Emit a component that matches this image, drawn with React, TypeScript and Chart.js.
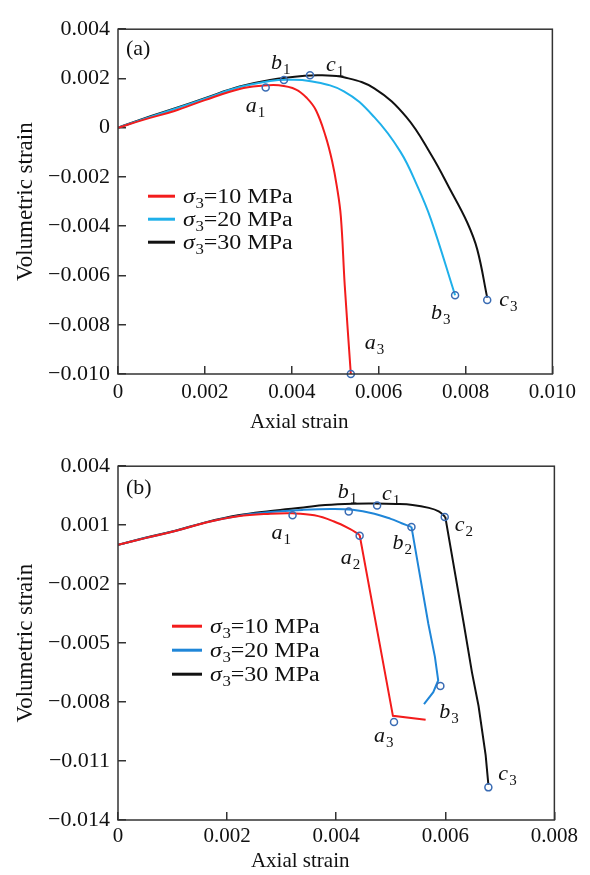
import React, { useEffect, useRef } from 'react';
import { Chart, registerables } from 'chart.js';

Chart.register(...registerables);

const FONT = '"Liberation Serif", "Times New Roman", Times, serif';

// ---------- Panel (a) data ----------
const aRedX = [0, 0.0006, 0.0013, 0.002, 0.0028, 0.0033, 0.0037, 0.0041, 0.00435, 0.00456, 0.00478, 0.00493, 0.00504, 0.00513, 0.00522, 0.00536];
const aRedY = [0, 0.00033, 0.00068, 0.00112, 0.00157, 0.0017, 0.00172, 0.00155, 0.0012, 0.0007, -0.00035, -0.00136, -0.0024, -0.0036, -0.0064, -0.0100];

const aBlueX = [0, 0.0006, 0.0013, 0.002, 0.0028, 0.0035, 0.0039, 0.0044, 0.0052, 0.0059, 0.0065, 0.0069, 0.0072, 0.00776];
const aBlueY = [0, 0.00036, 0.00076, 0.00118, 0.00165, 0.0019, 0.00195, 0.0019, 0.00148, 0.00043, -0.00097, -0.0024, -0.0037, -0.0068];

const aBlackX = [0, 0.0006, 0.0013, 0.002, 0.0028, 0.0035, 0.0043, 0.0047, 0.0052, 0.0059, 0.00664, 0.00722, 0.00764, 0.00804, 0.00827, 0.0085];
const aBlackY = [0, 0.00038, 0.00078, 0.0012, 0.00167, 0.00194, 0.00211, 0.00213, 0.00205, 0.0016, 0.00043, -0.00113, -0.00249, -0.00385, -0.00494, -0.0069];

const aMarkNames = ['a1', 'b1', 'c1', 'a3', 'b3', 'c3'];
const aMarkX = [0.0034, 0.00382, 0.00442, 0.00536, 0.00776, 0.0085];
const aMarkY = [0.00163, 0.00194, 0.00213, -0.0100, -0.0068, -0.0070];

const aXTicks = [0, 0.002, 0.004, 0.006, 0.008, 0.010];
const aYTicks = [0.004, 0.002, 0, -0.002, -0.004, -0.006, -0.008, -0.010];

// ---------- Panel (b) data ----------
const bRedX = [0, 0.0005, 0.00105, 0.0016, 0.0022, 0.0028, 0.0032, 0.0036, 0.00395, 0.00425, 0.00443, 0.00504, 0.00564];
const bRedY = [0, 0.00034, 0.0007, 0.00112, 0.00145, 0.00158, 0.0016, 0.0015, 0.0012, 0.00081, 0.0005, -0.0087, -0.0089];

const bBlueX = [0, 0.0005, 0.00105, 0.0016, 0.0022, 0.0028, 0.0034, 0.0039, 0.0043, 0.0047, 0.005, 0.0052, 0.00538, 0.00569, 0.00581, 0.00587, 0.00578, 0.00561];
const bBlueY = [0, 0.00035, 0.0007, 0.00113, 0.00147, 0.00167, 0.00178, 0.00182, 0.00178, 0.00158, 0.00132, 0.0011, 0.00091, -0.00403, -0.0057, -0.0069, -0.0075, -0.0081];

const bBlackX = [0, 0.0005, 0.00105, 0.0016, 0.0022, 0.0028, 0.0034, 0.0038, 0.0043, 0.0047, 0.0051, 0.0054, 0.0057, 0.00588, 0.006, 0.00634, 0.00649, 0.00661, 0.00674, 0.00679];
const bBlackY = [0, 0.00036, 0.00072, 0.00114, 0.0015, 0.00172, 0.0019, 0.00202, 0.00209, 0.0021, 0.00208, 0.00203, 0.00188, 0.0017, 0.00142, -0.00403, -0.0065, -0.0082, -0.0107, -0.0122];

const bMarkNames = ['a1', 'b1', 'c1', 'a2', 'b2', 'c2', 'a3', 'b3', 'c3'];
const bMarkX = [0.0032, 0.00423, 0.00475, 0.00443, 0.00538, 0.00599, 0.00506, 0.00591, 0.00679];
const bMarkY = [0.0015, 0.0017, 0.002, 0.00046, 0.00091, 0.00142, -0.00901, -0.00718, -0.01234];

const bXTicks = [0, 0.002, 0.004, 0.006, 0.008];
const bYTicks = [0.004, 0.001, -0.002, -0.005, -0.008, -0.011, -0.014];

const legendPressures = ['10', '20', '30'];

// ---------- styles ----------
const RED = '#f31c1c';
const BLACK = '#111111';
const MARK = '#3a6cb4';

type Series = { x: number[]; y: number[]; color: string; bend: number };
type Panel = {
  tag: string;
  series: Series[];
  markNames: string[];
  markX: number[];
  markY: number[];
  labelOff: Record<string, [number, number]>;
  xMax: number;
  yMin: number;
  yMax: number;
  xTicks: number[];
  yTicks: number[];
  height: number;
  padTop: number;
  xAxisH: number;
  xTickPad: number;
  legend: { x0: number; x1: number; tx: number; rows: number[] };
  xTitleDy: number;
  tagDy: number;
};

const panelA: Panel = {
  tag: '(a)',
  series: [
    { x: aRedX, y: aRedY, color: RED, bend: aRedX.length - 1 },
    { x: aBlueX, y: aBlueY, color: '#1fb0ea', bend: aBlueX.length - 1 },
    { x: aBlackX, y: aBlackY, color: BLACK, bend: aBlackX.length - 1 },
  ],
  markNames: aMarkNames,
  markX: aMarkX,
  markY: aMarkY,
  labelOff: { a1: [-20, 24], b1: [-13, -11], c1: [16, -4], a3: [14, -25], b3: [-24, 24], c3: [12, 6] },
  xMax: 0.010,
  yMin: -0.010,
  yMax: 0.004,
  xTicks: aXTicks,
  yTicks: aYTicks,
  height: 437,
  padTop: 14,
  xAxisH: 63,
  xTickPad: 14,
  legend: { x0: 30, x1: 57, tx: 65, rows: [167, 190, 213] },
  xTitleDy: 54,
  tagDy: 26,
};

const panelB: Panel = {
  tag: '(b)',
  series: [
    { x: bRedX, y: bRedY, color: RED, bend: 10 },
    { x: bBlueX, y: bBlueY, color: '#1f86d8', bend: 12 },
    { x: bBlackX, y: bBlackY, color: BLACK, bend: 14 },
  ],
  markNames: bMarkNames,
  markX: bMarkX,
  markY: bMarkY,
  labelOff: {
    a1: [-21, 24], b1: [-11, -13], c1: [5, -6], a2: [-19, 28], b2: [-19, 22],
    c2: [10, 14], a3: [-20, 20], b3: [-1, 32], c3: [10, -7],
  },
  xMax: 0.008,
  yMin: -0.014,
  yMax: 0.004,
  xTicks: bXTicks,
  yTicks: bYTicks,
  height: 438,
  padTop: 22,
  xAxisH: 55,
  xTickPad: 12,
  legend: { x0: 54, x1: 84, tx: 92, rows: [160, 184, 208] },
  xTitleDy: 47,
  tagDy: 28,
};

function fmt(v: number): string {
  if (Math.abs(v) < 1e-12) return '0';
  return (v < 0 ? '\u2212' : '') + Math.abs(v).toFixed(3);
}

function drawSub(ctx: CanvasRenderingContext2D, x: number, y: number, main: string, sub: string, size: number, subSize: number) {
  ctx.textAlign = 'left';
  ctx.textBaseline = 'alphabetic';
  ctx.font = `italic ${size}px ${FONT}`;
  ctx.fillText(main, x, y);
  const w = ctx.measureText(main).width;
  ctx.font = `${subSize}px ${FONT}`;
  ctx.fillText(sub, x + w + 1, y + 5);
}

function overlay(p: Panel) {
  return {
    id: 'overlay',
    afterDraw(chart: any) {
      const ctx: CanvasRenderingContext2D = chart.ctx;
      const a = chart.chartArea;
      const xs = chart.scales.x;
      const ys = chart.scales.y;
      ctx.save();
      // frame
      ctx.strokeStyle = '#333';
      ctx.lineWidth = 1.5;
      ctx.strokeRect(a.left, a.top, a.right - a.left, a.bottom - a.top);
      ctx.fillStyle = '#111';
      // panel tag
      ctx.textAlign = 'left';
      ctx.textBaseline = 'alphabetic';
      ctx.font = `22px ${FONT}`;
      ctx.fillText(p.tag, a.left + 8, a.top + p.tagDy);
      // x title
      ctx.textAlign = 'center';
      ctx.font = `21px ${FONT}`;
      ctx.fillText('Axial strain', (a.left + a.right) / 2 - 36, a.bottom + p.xTitleDy);
      // legend
      p.series.forEach((s, i) => {
        const ry = a.top + p.legend.rows[i];
        ctx.strokeStyle = s.color;
        ctx.lineWidth = 3;
        ctx.beginPath();
        ctx.moveTo(a.left + p.legend.x0, ry);
        ctx.lineTo(a.left + p.legend.x1, ry);
        ctx.stroke();
        ctx.save();
        ctx.translate(a.left + p.legend.tx, ry + 7);
        ctx.scale(1.2, 1);
        ctx.fillStyle = '#111';
        ctx.textAlign = 'left';
        ctx.textBaseline = 'alphabetic';
        ctx.font = `italic 20px ${FONT}`;
        ctx.fillText('\u03c3', 0, 0);
        let w = ctx.measureText('\u03c3').width;
        ctx.font = `14px ${FONT}`;
        ctx.fillText('3', w + 0.5, 5);
        w += ctx.measureText('3').width + 0.5;
        ctx.font = `20px ${FONT}`;
        ctx.fillText(`=${legendPressures[i]} MPa`, w, 0);
        ctx.restore();
      });
      // point labels
      ctx.fillStyle = '#111';
      p.markNames.forEach((n, i) => {
        const px = xs.getPixelForValue(p.markX[i]);
        const py = ys.getPixelForValue(p.markY[i]);
        const off = p.labelOff[n];
        drawSub(ctx, px + off[0], py + off[1], n[0], n.slice(1), 22, 15);
      });
      ctx.restore();
    },
  };
}

function makeConfig(p: Panel): any {
  const lineSets: any[] = [];
  p.series.forEach((s) => {
    const pts = s.x.map((x, i) => ({ x, y: s.y[i] }));
    const curved = pts.slice(0, s.bend + 1);
    const straight = pts.slice(s.bend);
    const base = { borderColor: s.color, borderWidth: 2, pointRadius: 0, showLine: true, fill: false, order: 1 };
    lineSets.push({ ...base, data: curved, tension: 0.4 });
    if (straight.length > 1) lineSets.push({ ...base, data: straight, tension: 0 });
  });
  const markSet = {
    data: p.markX.map((x, i) => ({ x, y: p.markY[i] })),
    showLine: false,
    pointRadius: 3.5,
    pointBorderWidth: 1.5,
    pointBorderColor: MARK,
    pointBackgroundColor: 'rgba(255,255,255,0)',
    clip: false,
    order: 0,
  };
  const gridOpts = { drawOnChartArea: false, tickLength: -8, color: '#333', lineWidth: 1.5 };
  return {
    type: 'line',
    data: { datasets: [markSet, ...lineSets] },
    options: {
      animation: false,
      responsive: false,
      devicePixelRatio: 1,
      layout: { padding: { top: p.padTop, right: 22, left: 0, bottom: 0 } },
      plugins: { legend: { display: false }, tooltip: { enabled: false } },
      scales: {
        x: {
          type: 'linear',
          min: 0,
          max: p.xMax,
          afterBuildTicks: (s: any) => { s.ticks = p.xTicks.map((v) => ({ value: v })); },
          afterFit: (s: any) => { s.height = p.xAxisH; },
          grid: gridOpts,
          border: { display: false },
          ticks: {
            padding: p.xTickPad,
            color: '#111',
            font: { family: FONT, size: 21 },
            maxRotation: 0,
            autoSkip: false,
            callback: (v: any) => fmt(Number(v)),
          },
        },
        y: {
          type: 'linear',
          min: p.yMin,
          max: p.yMax,
          afterBuildTicks: (s: any) => { s.ticks = p.yTicks.map((v) => ({ value: v })); },
          afterFit: (s: any) => { s.width = 118; },
          grid: gridOpts,
          border: { display: false },
          ticks: {
            padding: 16,
            color: '#111',
            font: { family: FONT, size: 22 },
            autoSkip: false,
            callback: (v: any) => fmt(Number(v)),
          },
          title: {
            display: true,
            text: 'Volumetric strain',
            color: '#111',
            font: { family: FONT, size: 23 },
            padding: { top: 12, bottom: 0 },
          },
        },
      },
    },
    plugins: [overlay(p)],
  };
}

function PanelChart({ p, top }: { p: Panel; top: number }) {
  const ref = useRef<HTMLCanvasElement>(null);
  useEffect(() => {
    const chart = new Chart(ref.current as HTMLCanvasElement, makeConfig(p));
    return () => chart.destroy();
  }, [p]);
  return (
    <canvas
      ref={ref}
      width={590}
      height={p.height}
      style={{ position: 'absolute', left: 0, top, width: 590, height: p.height }}
    />
  );
}

export default function App() {
  return (
    <div style={{ position: 'absolute', left: 0, top: 0, width: 590, height: 875, background: '#fff' }}>
      <PanelChart p={panelA} top={0} />
      <PanelChart p={panelB} top={437} />
    </div>
  );
}
